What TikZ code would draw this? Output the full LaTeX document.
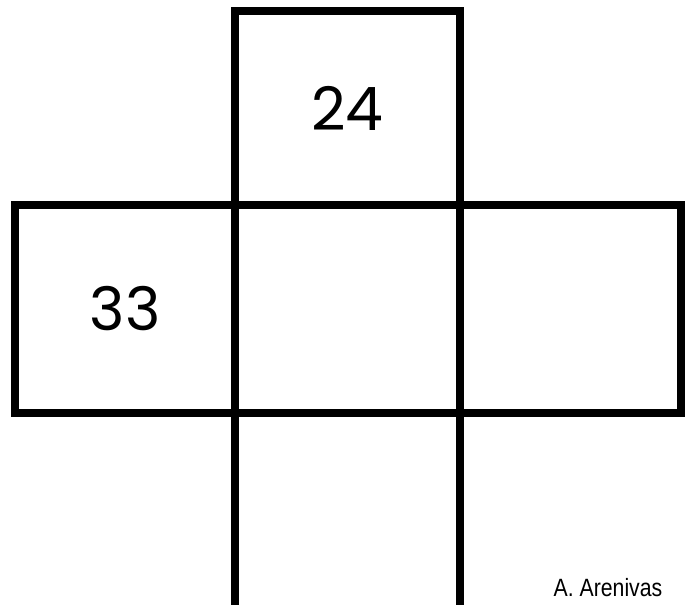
\documentclass[tikz,border=0pt]{standalone}
\usepackage{fontspec}
\setmainfont{Poppins}
\newfontfamily\signfont{Liberation Sans}
\usetikzlibrary{positioning}

\begin{document}
\begin{tikzpicture}[x=1pt,y=1pt,node distance=0pt,
 sq/.style={draw=black,line width=8pt,outer sep=0pt,inner sep=0pt,
 font=\fontsize{60}{60}\selectfont},
 wall/.style={draw=black,line width=8pt}]
\useasboundingbox (0,0) rectangle (691,605);
\node[sq,minimum width=225pt,minimum height=208pt] (mid) at (347.5,296) {};
\node[sq,minimum width=225pt,minimum height=194pt,above=of mid] (top) {24};
\node[sq,minimum width=220pt,minimum height=208pt,left=of mid] (left) {33};
\node[sq,minimum width=221pt,minimum height=208pt,right=of mid] (right) {};
\coordinate (foot) at (347.5,-10);
\draw[wall] (mid.south west)--(mid.south west |- foot);
\draw[wall] (mid.south east)--(mid.south east |- foot);
\node[anchor=base,xscale=0.85,font=\signfont\fontsize{25}{25}\selectfont]
  (sign) at (608,8) {A. Arenivas};
\end{tikzpicture}
\end{document}
